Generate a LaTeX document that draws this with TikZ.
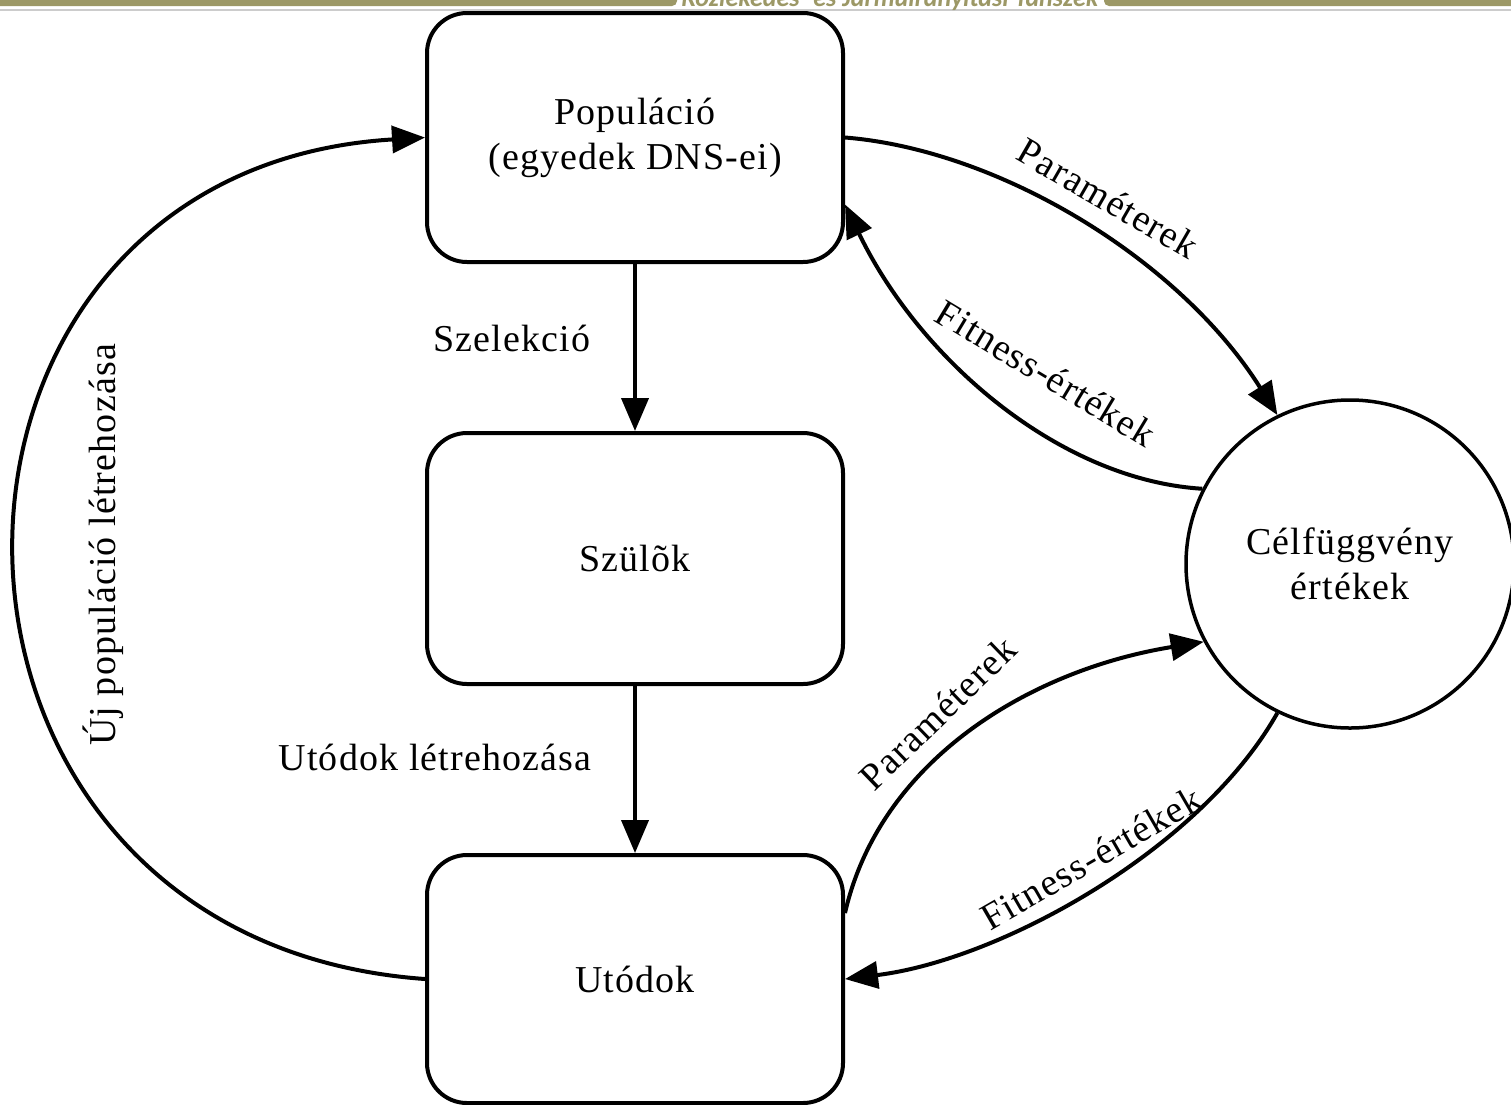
\documentclass[tikz,border=0pt]{standalone}
\usepackage{fontspec}
\setmainfont{Liberation Serif}[LetterSpace=3.0]
\newfontfamily\bannerfont{Carlito}
\usetikzlibrary{arrows.meta,calc}
\definecolor{bannerolive}{RGB}{156,152,102}
\begin{document}
\begin{tikzpicture}[x=1pt,y=-1pt,
  every node/.style={font=\fontsize{38}{45}\selectfont},
  box/.style={draw, line width=4pt, rounded corners=40pt, minimum width=416pt, minimum height=249pt, align=center, inner sep=0pt},
  conn/.style={line width=4pt, -{Triangle[length=33pt,width=27pt]}},
  lbl/.style={inner sep=0pt}]
\useasboundingbox (0,0) rectangle (1511,1104);
\clip (0,0) rectangle (1511,1104);
\fill[white] (0,0) rectangle (1511,1104);
% banner
\fill[bannerolive, rounded corners=5pt] (-10,-10) rectangle (677,6);
\fill[bannerolive, rounded corners=5pt] (1104,-10) rectangle (1521,6);
\draw[black!20, line width=1.5pt] (0,10) -- (1511,10);
\node[anchor=base, font=\bannerfont\bfseries\itshape\fontsize{26}{30}\selectfont, text=bannerolive, inner sep=0pt] (banner) at (890,6) {Közlekedés- és Járműirányítási Tanszék};
% nodes
\node[box] (pop) at (635,137.5) {Populáció\\(egyedek DNS-ei)};
\node[box, minimum height=251pt] (szul) at (635,558.5) {Szülõk};
\node[box, minimum height=248pt] (utod) at (635,979) {Utódok};
\node[draw, circle, line width=3.5pt, minimum size=328pt, align=center, inner sep=0pt] (circ) at (1350,564) {Célfüggvény\\értékek};
% connectors
\draw[conn] (pop.south) -- (szul.north);
\draw[conn] (szul.south) -- (utod.north);
\draw[conn] (utod.west) .. controls (-120,940) and (-120,170) .. (pop.west);
\draw[conn] (pop.east) .. controls (1000,150) and (1180,260) .. (circ.116);
\draw[conn] (circ.153) .. controls (1060,480) and (920,360) .. ($(pop.east)+(0,67)$);
\draw[conn] ($(utod.east)+(0,-66)$) .. controls (880,760) and (1030,670) .. (circ.208);
\draw[conn] (circ.244) .. controls (1200,850) and (1000,960) .. (utod.east);
% labels
\node[lbl] (l1) at (512,338) {Szelekció};
\node[lbl] (l2) at (435,757) {Utódok létrehozása};
\node[lbl, rotate=90] (l3) at (103,545) {Új populáció létrehozása};
\node[lbl, rotate=-30] (l4) at (1108,198) {Paraméterek};
\node[lbl, rotate=-31] (l5) at (1046,373) {Fitness-értékek};
\node[lbl, rotate=44] (l6) at (938,713) {Paraméterek};
\node[lbl, rotate=30] (l7) at (1091,858) {Fitness-értékek};
\end{tikzpicture}
\end{document}
